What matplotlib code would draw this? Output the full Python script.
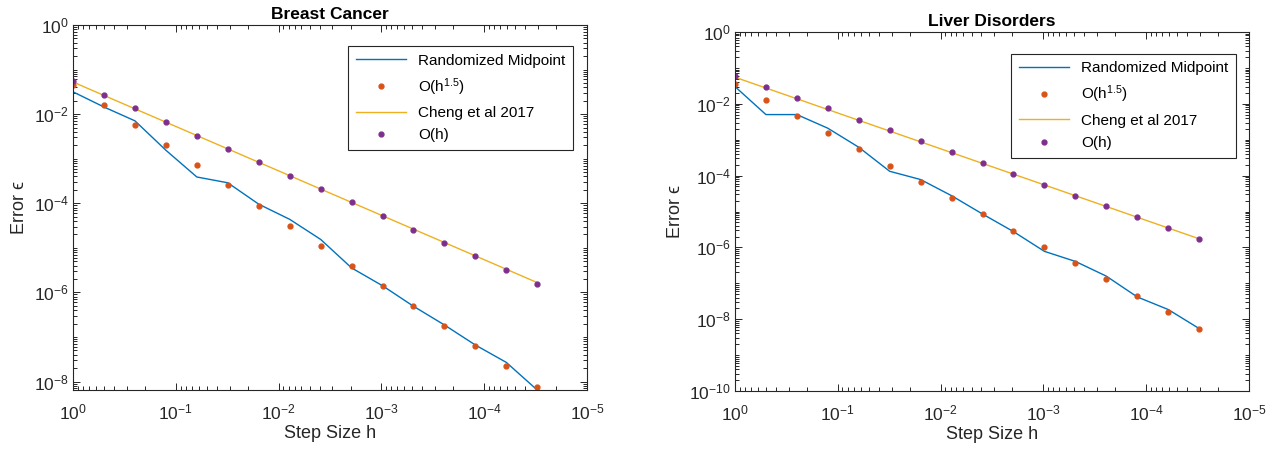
import numpy as np
import matplotlib
matplotlib.use('Agg')
import matplotlib.pyplot as plt
from matplotlib.ticker import LogLocator, FixedLocator, NullFormatter

# police type Helvetica / Arial
matplotlib.rcParams['font.family'] = ['Liberation Sans', 'DejaVu Sans']
matplotlib.rcParams['mathtext.fontset'] = 'custom'
matplotlib.rcParams['mathtext.rm'] = 'Liberation Sans'
matplotlib.rcParams['mathtext.it'] = 'Liberation Sans:italic'
matplotlib.rcParams['mathtext.bf'] = 'Liberation Sans:bold'

# couleurs MATLAB par defaut
C_BLUE = '#0072BD'
C_ORANGE = '#D95319'
C_YELLOW = '#EDB120'
C_PURPLE = '#7E2F8E'

# pas h = 2^-k, k = 0..15
step_sizes = [1.0, 0.5, 0.25, 0.125, 0.0625, 0.03125, 0.015625, 0.0078125,
              0.00390625, 0.001953125, 9.765625e-4, 4.8828125e-4,
              2.44140625e-4, 1.220703125e-4, 6.103515625e-5, 3.0517578125e-5]

# erreurs (exposants log10)
bc_midpoint = [-1.50, -1.84, -2.15, -2.81, -3.41, -3.54, -4.02, -4.36,
               -4.81, -5.45, -5.85, -6.31, -6.73, -7.18, -7.57, -8.19]
bc_h15 = [-1.34, -1.79, -2.25, -2.70, -3.14, -3.59, -4.05, -4.50,
          -4.95, -5.40, -5.85, -6.31, -6.76, -7.21, -7.66, -8.12]
bc_cheng = [-1.28, -1.58, -1.88, -2.18, -2.48, -2.78, -3.08, -3.38,
            -3.68, -3.98, -4.28, -4.58, -4.88, -5.18, -5.48, -5.78]
bc_h1 = [-1.25, -1.57, -1.87, -2.17, -2.48, -2.78, -3.08, -3.38,
         -3.68, -3.98, -4.29, -4.59, -4.89, -5.19, -5.49, -5.80]

ld_midpoint = [-1.52, -2.30, -2.30, -2.68, -3.21, -3.88, -4.11, -4.56,
               -5.07, -5.56, -6.11, -6.39, -6.80, -7.38, -7.73, -8.26]
ld_h15 = [-1.45, -1.90, -2.35, -2.81, -3.27, -3.72, -4.17, -4.62,
          -5.08, -5.53, -5.99, -6.44, -6.89, -7.35, -7.80, -8.26]
ld_cheng = [-1.26, -1.56, -1.86, -2.16, -2.46, -2.76, -3.06, -3.36,
            -3.66, -3.96, -4.26, -4.56, -4.86, -5.16, -5.46, -5.76]
ld_h1 = [-1.23, -1.53, -1.83, -2.13, -2.44, -2.73, -3.04, -3.35,
         -3.65, -3.95, -4.25, -4.56, -4.86, -5.16, -5.47, -5.77]

titles = ['Breast Cancer', 'Liver Disorders']
legend_labels = ['Randomized Midpoint', r'O(h$^{1.5}$)', 'Cheng et al 2017', 'O(h)']
x_ticks = [1e0, 1e-1, 1e-2, 1e-3, 1e-4, 1e-5]
x_ticklabels = [r'$10^{0}$', r'$10^{-1}$', r'$10^{-2}$', r'$10^{-3}$', r'$10^{-4}$', r'$10^{-5}$']


def draw_panel(ax, title, midpoint, h15, cheng, h1, y_exp_ticks, ylim, legend_anchor):
    h = np.array(step_sizes)
    ax.plot(h, 10.0 ** np.array(midpoint), color=C_BLUE, lw=1.0, label=legend_labels[0])
    ax.plot(h, 10.0 ** np.array(h15), ls='none', marker='o', ms=3.5,
            color=C_ORANGE, mec=C_ORANGE, label=legend_labels[1])
    ax.plot(h, 10.0 ** np.array(cheng), color=C_YELLOW, lw=1.0, label=legend_labels[2])
    ax.plot(h, 10.0 ** np.array(h1), ls='none', marker='o', ms=3.5,
            color=C_PURPLE, mec=C_PURPLE, label=legend_labels[3])

    ax.set_xscale('log')
    ax.set_yscale('log')
    ax.set_xlim(1e0, 1e-5)
    ax.set_ylim(*ylim)

    ax.xaxis.set_major_locator(FixedLocator(x_ticks))
    ax.set_xticklabels(x_ticklabels)
    ax.xaxis.set_minor_locator(LogLocator(base=10, subs=np.arange(2, 10), numticks=50))
    ax.xaxis.set_minor_formatter(NullFormatter())

    yt = [10.0 ** e for e in y_exp_ticks]
    ax.yaxis.set_major_locator(FixedLocator(yt))
    ax.set_yticklabels([r'$10^{%d}$' % e for e in y_exp_ticks])
    ax.yaxis.set_minor_locator(LogLocator(base=10, subs=np.arange(1, 10), numticks=50))
    ax.yaxis.set_minor_formatter(NullFormatter())

    ax.tick_params(which='both', direction='in', top=True, right=True,
                   colors='#262626', labelsize=12.5, width=0.7)
    ax.tick_params(which='major', length=5)
    ax.tick_params(which='minor', length=3)
    ax.tick_params(axis='x', which='major', pad=9)
    ax.tick_params(axis='y', which='major', pad=3)
    for sp in ax.spines.values():
        sp.set_color('#262626')
        sp.set_linewidth(0.8)

    ax.set_title(title, fontsize=12.5, fontweight='bold', pad=4)
    ax.set_xlabel('Step Size h', fontsize=13, color='#262626', labelpad=2)
    ax.set_ylabel('Error \u03f5', fontsize=13, color='#262626',
                  family=['Liberation Sans', 'DejaVu Sans'])

    leg = ax.legend(loc='upper right', bbox_to_anchor=legend_anchor, borderaxespad=0,
                    fontsize=11, handlelength=3.3, labelspacing=0.55, fancybox=False,
                    framealpha=1, edgecolor='#262626', borderpad=0.5)
    leg.get_frame().set_linewidth(0.8)


fig = plt.figure(figsize=(12.84, 4.5), dpi=100)
ax1 = fig.add_axes([0.0569, 0.1333, 0.4003, 0.8111])
ax2 = fig.add_axes([0.5724, 0.1311, 0.4003, 0.7978])

draw_panel(ax1, titles[0], bc_midpoint, bc_h15, bc_cheng, bc_h1,
           [0, -2, -4, -6, -8], (10.0 ** min(bc_midpoint), 1e0), (0.973, 0.9425))
draw_panel(ax2, titles[1], ld_midpoint, ld_h15, ld_cheng, ld_h1,
           [0, -2, -4, -6, -8, -10], (1e-10, 1e0), (0.975, 0.940))

fig.savefig('out.png', dpi=100)
plt.close(fig)
